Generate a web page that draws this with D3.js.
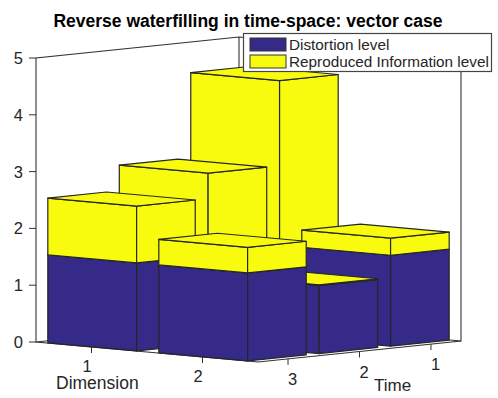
<!DOCTYPE html>
<html>
<head>
<meta charset="utf-8">
<script src="https://cdn.jsdelivr.net/npm/d3@7/dist/d3.min.js"></script>
<style>
  body { margin: 0; background: #fff; }
  text { font-family: "Liberation Sans", sans-serif; fill: #262626; }
</style>
</head>
<body>
<script>
const dimensions = [1, 2];
const times = [1, 2, 3];
const zTicks = [0, 1, 2, 3, 4, 5];
// rows are dimensions, columns are times 1..3
const distortion = [[1.5, 1.5, 1.55], [1.6, 1.2, 1.55]];
const information = [[3.0, 1.5, 1.0], [0.3, 0.01, 0.45]];
const legendLabels = ['Distortion level', 'Reproduced Information level'];
const colors = ['#352a87', '#f9fb0e'];

const width = 498;
const height = 398;
const barHalfDim = 0.4;
const barHalfTime = 0.41;

const svg = d3.select('body').append('svg')
  .attr('width', width)
  .attr('height', height);

// oblique view, each data axis moves the point in both x and y on screen
const origin = [36, 342];
const dimX = d3.scaleLinear().domain([0.5, 2.5]).range([0, 222]);
const dimY = d3.scaleLinear().domain([0.5, 2.5]).range([0, 20]);
const timeX = d3.scaleLinear().domain([3.42, 0.58]).range([0, 203]);
const timeY = d3.scaleLinear().domain([3.42, 0.58]).range([0, -21]);
const zScale = d3.scaleLinear().domain([0, 5]).range([0, -284]);

const project = (d, t, z) => [
  origin[0] + dimX(d) + timeX(t),
  origin[1] + dimY(d) + timeY(t) + zScale(z)
];

const line = d3.line().curve(d3.curveLinearClosed);
const open = d3.line();
const axisColor = '#333';

// box behind the bars
const [dMin, dMax] = dimX.domain();
const [tMax, tMin] = timeX.domain();
const zTop = zScale.domain()[1];
const frame = [
  [[dMin, tMin, zTop], [dMin, tMax, zTop], [dMin, tMax, 0], [dMax, tMax, 0], [dMax, tMin, 0], [dMax, tMin, zTop], [dMin, tMin, zTop]],
  [[dMin, tMin, zTop], [dMin, tMin, 0]],
  [[dMin, tMax, 0], [dMin, tMin, 0], [dMax, tMin, 0]]
];
svg.append('g').selectAll('path')
  .data(frame)
  .enter().append('path')
    .attr('d', d => open(d.map(p => project(...p))))
    .attr('fill', 'none')
    .attr('stroke', axisColor)
    .attr('stroke-width', 1.1);

// z axis ticks and labels
const zAxis = svg.append('g');
zTicks.forEach(z => {
  const p = project(dMin, tMax, z);
  zAxis.append('line')
    .attr('x1', p[0] - 7).attr('x2', p[0])
    .attr('y1', p[1]).attr('y2', p[1])
    .attr('stroke', axisColor);
  zAxis.append('text')
    .attr('x', p[0] - 13)
    .attr('y', p[1] + 6)
    .attr('text-anchor', 'end')
    .attr('font-size', 16.5)
    .text(z);
});

// floor axis ticks and labels
const floorAxis = svg.append('g');
dimensions.forEach(d => {
  const p = project(d, tMax, 0);
  floorAxis.append('line')
    .attr('x1', p[0]).attr('x2', p[0])
    .attr('y1', p[1]).attr('y2', p[1] + 6)
    .attr('stroke', axisColor);
  floorAxis.append('text')
    .attr('x', p[0] - 4.5)
    .attr('y', p[1] + 25)
    .attr('text-anchor', 'middle')
    .attr('font-size', 16.5)
    .text(d);
});
times.forEach(t => {
  const p = project(dMax, t, 0);
  floorAxis.append('line')
    .attr('x1', p[0]).attr('x2', p[0])
    .attr('y1', p[1]).attr('y2', p[1] + 6)
    .attr('stroke', axisColor);
  floorAxis.append('text')
    .attr('x', p[0] + 4.5)
    .attr('y', p[1] + 26)
    .attr('text-anchor', 'middle')
    .attr('font-size', 16.5)
    .text(t);
});
floorAxis.append('text').attr('x', 56).attr('y', 389).attr('font-size', 17.5).text('Dimension');
floorAxis.append('text').attr('x', 374).attr('y', 391).attr('font-size', 17).text('Time');

// one solid of a stacked bar: front face, side face, lid
const boxFaces = (d, t, z0, z1) => {
  const d0 = d - barHalfDim, d1 = d + barHalfDim;
  const t0 = t + barHalfTime, t1 = t - barHalfTime;
  return [
    [[d0, t0, z0], [d1, t0, z0], [d1, t0, z1], [d0, t0, z1]],
    [[d1, t0, z0], [d1, t1, z0], [d1, t1, z1], [d1, t0, z1]],
    [[d0, t0, z1], [d1, t0, z1], [d1, t1, z1], [d0, t1, z1]]
  ];
};

// painter's order, far bars first
const boxes = [];
dimensions.forEach((d, i) => {
  times.forEach((t, j) => {
    const base = distortion[i][j];
    const top = base + information[i][j];
    boxes.push({ d, t, z0: 0, z1: base, color: colors[0] });
    boxes.push({ d, t, z0: base, z1: top, color: colors[1] });
  });
});

svg.append('g').selectAll('g')
  .data(boxes)
  .enter().append('g')
    .selectAll('path')
    .data(b => boxFaces(b.d, b.t, b.z0, b.z1).map(face => ({ face, color: b.color })))
    .enter().append('path')
      .attr('d', f => line(f.face.map(p => project(...p))))
      .attr('fill', f => f.color)
      .attr('stroke', '#262626')
      .attr('stroke-width', 1.2)
      .attr('stroke-linejoin', 'round');

svg.append('text')
  .attr('x', 248)
  .attr('y', 27)
  .attr('text-anchor', 'middle')
  .attr('font-size', 17.5)
  .attr('font-weight', 'bold')
  .style('fill', '#000')
  .text('Reverse waterfilling in time-space: vector case');

// legend
const legend = svg.append('g');
legend.append('rect')
  .attr('x', 243.5).attr('y', 33.5)
  .attr('width', 248).attr('height', 38)
  .attr('fill', '#fff')
  .attr('stroke', '#444')
  .attr('stroke-width', 1.2);
const legendY = d3.scalePoint().domain(legendLabels).range([44.5, 61.5]);
legendLabels.forEach((label, i) => {
  legend.append('rect')
    .attr('x', 250).attr('y', legendY(label) - 6.5)
    .attr('width', 36).attr('height', 13)
    .attr('fill', colors[i])
    .attr('stroke', '#333');
  legend.append('text')
    .attr('x', 289).attr('y', legendY(label) + 5)
    .attr('font-size', 15.3)
    .text(label);
});
</script>
</body>
</html>
